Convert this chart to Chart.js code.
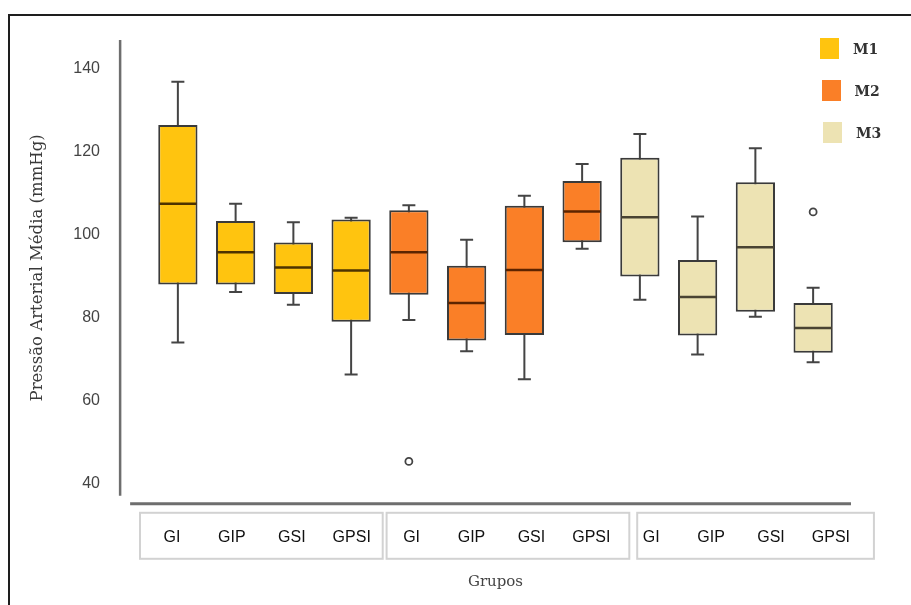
<!DOCTYPE html>
<html>
<head>
<meta charset="utf-8">
<script src="https://cdn.jsdelivr.net/npm/chart.js@4.4.1/dist/chart.umd.min.js"></script>
<style>
  html, body { margin: 0; padding: 0; background: #ffffff; }
  #wrap { position: relative; width: 911px; height: 605px; overflow: hidden; }
  #c { position: absolute; left: 0; top: 0; }
  #frame { position: absolute; left: 8px; top: 14px; width: 920px; height: 620px;
           border-top: 2px solid #1e1e1e; border-left: 2px solid #1e1e1e; pointer-events: none; }
  #legend { position: absolute; left: 820px; top: 38px; font-family: 'DejaVu Serif', serif;
            font-size: 14px; font-weight: bold; color: #333; }
  .item { position: absolute; left: 0; display: flex; align-items: center; white-space: nowrap; }
  .sw { width: 19px; height: 21px; margin-right: 14px; }
</style>
</head>
<body>
<div id="wrap">
  <canvas id="c" width="911" height="605"></canvas>
  <div id="legend"></div>
  <div id="frame"></div>
</div>
<script>
// ---------- data ----------
const categories = ['GI', 'GIP', 'GSI', 'GPSI', 'GI', 'GIP', 'GSI', 'GPSI', 'GI', 'GIP', 'GSI', 'GPSI'];
const seriesNames = ['M1', 'M2', 'M3'];
const yTicks = [40, 60, 80, 100, 120, 140];

// five-number summaries, one value per group (GI, GIP, GSI, GPSI)
const m1Min    = [74.0, 86.2, 83.1, 66.3];
const m1Q1     = [88.0, 88.0, 85.7, 79.0];
const m1Median = [107.5, 95.8, 92.1, 91.4];
const m1Q3     = [126.5, 103.3, 98.1, 103.7];
const m1Max    = [136.9, 107.5, 103.0, 104.1];

const m2Min    = [79.4, 71.9, 65.1, 96.6];
const m2Q1     = [85.5, 74.5, 75.8, 98.2];
const m2Median = [95.8, 83.5, 91.5, 105.6];
const m2Q3     = [105.9, 92.5, 107.0, 113.0];
const m2Max    = [107.1, 98.8, 109.4, 117.1];

const m3Min    = [84.3, 71.1, 80.2, 69.2];
const m3Q1     = [89.9, 75.7, 81.4, 71.5];
const m3Median = [104.2, 85.0, 97.0, 77.5];
const m3Q3     = [118.6, 93.9, 112.7, 83.5];
const m3Max    = [124.3, 104.4, 120.9, 87.2];

// outliers (null = none)
const m2Outliers = [45.3, null, null, null];
const m3Outliers = [null, null, null, 105.5];

// ---------- styles ----------
const fills   = ['#FFC40F', '#FA7F27', '#EDE3B3'];
const medians = ['#4d3300', '#5c2400', '#4a4433'];
const edge    = '#3a3a3a';
const frameLeftPad  = [32, 25, 14];
const frameRightPad = [31, 38, 43];

const series = [
  { min: m1Min, q1: m1Q1, med: m1Median, q3: m1Q3, max: m1Max, out: [null, null, null, null] },
  { min: m2Min, q1: m2Q1, med: m2Median, q3: m2Q3, max: m2Max, out: m2Outliers },
  { min: m3Min, q1: m3Q1, med: m3Median, q3: m3Q3, max: m3Max, out: m3Outliers }
];
const perGroup = 4;

const datasets = series.map((s, si) => {
  const data = categories.map(() => null);
  s.q1.forEach((v, k) => { data[si * perGroup + k] = [s.q1[k], s.q3[k]]; });
  return {
    type: 'bar', label: seriesNames[si], data,
    backgroundColor: fills[si], borderColor: edge, borderWidth: 2, borderSkipped: false,
    grouped: false, barPercentage: 0.68, categoryPercentage: 1.0,
    xAxisID: 'x', yAxisID: 'y', order: 2
  };
});
const outlierData = categories.map(() => null);
series.forEach((s, si) => s.out.forEach((v, k) => { if (v !== null) outlierData[si * perGroup + k] = v; }));
datasets.push({
  type: 'line', label: 'outliers', data: outlierData, showLine: false,
  pointRadius: 3.5, pointBorderWidth: 1.8, pointBackgroundColor: '#fff', pointBorderColor: '#444',
  xAxisID: 'x', yAxisID: 'y', order: 1
});

const boxPlot = {
  id: 'boxPlot',
  beforeDatasetsDraw(chart) {
    const { ctx } = chart; const y = chart.scales.y;
    series.forEach((s, si) => {
      const meta = chart.getDatasetMeta(si);
      s.min.forEach((_, k) => {
        const bar = meta.data[si * perGroup + k]; if (!bar) return;
        const x = bar.x, cap = 13;
        const a = y.getPixelForValue(s.min[k]), b = y.getPixelForValue(s.max[k]);
        ctx.save(); ctx.strokeStyle = '#444'; ctx.lineWidth = 2;
        ctx.beginPath();
        ctx.moveTo(x, a); ctx.lineTo(x, b);
        ctx.moveTo(x - cap / 2, a); ctx.lineTo(x + cap / 2, a);
        ctx.moveTo(x - cap / 2, b); ctx.lineTo(x + cap / 2, b);
        ctx.stroke(); ctx.restore();
      });
    });
  },
  afterDatasetsDraw(chart) {
    const { ctx } = chart; const y = chart.scales.y;
    series.forEach((s, si) => {
      const meta = chart.getDatasetMeta(si);
      s.med.forEach((v, k) => {
        const bar = meta.data[si * perGroup + k]; if (!bar) return;
        const py = y.getPixelForValue(v), hw = bar.width / 2 - 1;
        ctx.save(); ctx.strokeStyle = medians[si]; ctx.lineWidth = 2.5;
        ctx.beginPath(); ctx.moveTo(bar.x - hw, py); ctx.lineTo(bar.x + hw, py); ctx.stroke(); ctx.restore();
      });
    });
  },
  afterDraw(chart) {
    const { ctx, chartArea } = chart; const x = chart.scales.x; const xl = chart.scales.xl;
    const step = x.getPixelForValue(1) - x.getPixelForValue(0);
    const axisX = chartArea.left - step / 2;
    ctx.save();
    ctx.strokeStyle = '#6e6e6e';
    ctx.lineWidth = 2.5;
    ctx.beginPath(); ctx.moveTo(axisX, chartArea.top); ctx.lineTo(axisX, chartArea.bottom); ctx.stroke();
    ctx.lineWidth = 3;
    ctx.beginPath(); ctx.moveTo(axisX + 10, chartArea.bottom + 8); ctx.lineTo(chartArea.right + 9, chartArea.bottom + 8); ctx.stroke();
    // group frames around the label table
    ctx.strokeStyle = '#d2d2d2'; ctx.lineWidth = 2;
    for (let g = 0; g < series.length; g++) {
      const l = xl.getPixelForValue(g * perGroup) - frameLeftPad[g];
      const r = xl.getPixelForValue(g * perGroup + perGroup - 1) + frameRightPad[g];
      ctx.strokeRect(l, chartArea.bottom + 17, r - l, 46);
    }
    ctx.restore();
  }
};

const chart = new Chart(document.getElementById('c'), {
  data: { labels: categories, datasets },
  options: {
    responsive: false, animation: false,
    layout: { padding: { left: 20, top: 40, right: 69, bottom: 10 } },
    plugins: { legend: { display: false }, tooltip: { enabled: false } },
    scales: {
      x: { type: 'category', display: false, offset: true },
      xl: {
        type: 'linear', position: 'bottom', min: -0.384, max: 11.185,
        afterBuildTicks: (axis) => { axis.ticks = categories.map((_, i) => ({ value: i })); },
        grid: { display: false, drawTicks: true, tickLength: 16 }, border: { display: false },
        ticks: {
          autoSkip: false, maxRotation: 0, minRotation: 0, padding: 16, color: '#111',
          font: { family: "'Liberation Sans', Arial, sans-serif", size: 16 },
          callback: (v) => categories[v]
        },
        title: { display: true, text: 'Grupos', color: '#444', padding: { top: 10, bottom: 4 },
                 font: { family: "'DejaVu Serif', serif", size: 15 } }
      },
      y: {
        min: 37, max: 147,
        afterBuildTicks: (axis) => { axis.ticks = yTicks.map(v => ({ value: v })); },
        grid: { display: false, drawTicks: true, tickLength: 29 }, border: { display: false },
        ticks: { padding: 20, color: '#444', font: { family: "'Liberation Sans', Arial, sans-serif", size: 16 } },
        title: { display: true, text: 'Pressão Arterial Média (mmHg)', color: '#3a3a3a',
                 padding: { top: 7.5, bottom: 6 }, font: { family: "'DejaVu Serif', serif", size: 16.5 } }
      }
    }
  },
  plugins: [boxPlot]
});

// legend
const legend = document.getElementById('legend');
seriesNames.forEach((name, i) => {
  const it = document.createElement('div');
  it.className = 'item';
  it.style.top = (i * 42) + 'px';
  it.style.left = (i * 1.5) + 'px';
  const sw = document.createElement('div'); sw.className = 'sw'; sw.style.background = fills[i];
  const tx = document.createElement('span'); tx.textContent = name;
  it.appendChild(sw); it.appendChild(tx); legend.appendChild(it);
});
</script>
</body>
</html>
